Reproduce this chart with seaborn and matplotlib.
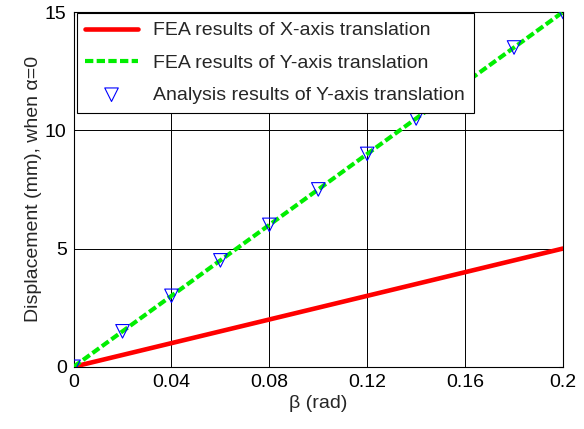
import numpy as np
import pandas as pd
import matplotlib
matplotlib.use("Agg")
import matplotlib.pyplot as plt
import seaborn as sns

sns.set_style("white")
plt.rcParams.update({
    "font.family": ["Liberation Sans", "DejaVu Sans"],
    "font.size": 14,
    "xtick.direction": "in", "ytick.direction": "in",
    "xtick.top": True, "ytick.right": True,
    "xtick.major.size": 3, "ytick.major.size": 3,
})

# ---- data ----
beta = [0.0, 0.02, 0.04, 0.06, 0.08, 0.10, 0.12, 0.14, 0.16, 0.18, 0.20]
fea_x = [0.0, 0.5, 1.0, 1.5, 2.0, 2.5, 3.0, 3.5, 4.0, 4.5, 5.0]
fea_y = [0.0, 1.5, 3.0, 4.5, 6.0, 7.5, 9.0, 10.5, 12.0, 13.5, 15.0]
ana_y = [0.0, 1.5, 3.0, 4.5, 6.0, 7.5, 9.0, 10.5, 12.0, 13.5, 15.0]
xticks = [0, 0.04, 0.08, 0.12, 0.16, 0.2]
xticklabels = ["0", "0.04", "0.08", "0.12", "0.16", "0.2"]
yticks = [0, 5, 10, 15]

df = pd.DataFrame({"beta": beta, "fea_x": fea_x, "fea_y": fea_y, "ana_y": ana_y})

fig = plt.figure(figsize=(5.84, 4.29), dpi=100)
ax = fig.add_axes([0.126, 0.145, 0.838, 0.827])

sns.lineplot(data=df, x="beta", y="fea_x", ax=ax, color="#ff0000", lw=3.3,
             label="FEA results of X-axis translation", zorder=3)
sns.lineplot(data=df, x="beta", y="fea_y", ax=ax, color="#00ee00", lw=3,
             linestyle=(0, (2, 0.8)), label="FEA results of Y-axis translation", zorder=4)
sns.scatterplot(data=df, x="beta", y="ana_y", ax=ax, marker="v", s=95,
                facecolor="none", edgecolor="#0000ff", linewidth=0.8,
                label="Analysis results of Y-axis translation", zorder=5)

ax.set_xlim(0, 0.2); ax.set_ylim(0, 15)
ax.set_xticks(xticks); ax.set_xticklabels(xticklabels)
ax.set_yticks(yticks)
ax.grid(True, color="black", lw=0.7)
for sp in ax.spines.values():
    sp.set_color("black"); sp.set_linewidth(0.8)
ax.tick_params(colors="black", labelsize=14, pad=5)
ax.set_xlabel("β (rad)", fontsize=14, labelpad=3)
ax.set_ylabel("Displacement (mm), when α=0", fontsize=14, labelpad=2)

leg = ax.legend(loc="upper left", bbox_to_anchor=(0.006, 0.997), fancybox=False,
                edgecolor="black", framealpha=1, handlelength=2.7, borderaxespad=0,
                fontsize=14, labelspacing=0.75, borderpad=0.45, handletextpad=0.8)
leg.get_frame().set_linewidth(0.8)
leg.set_zorder(10)

fig.savefig("out.png", dpi=100)
